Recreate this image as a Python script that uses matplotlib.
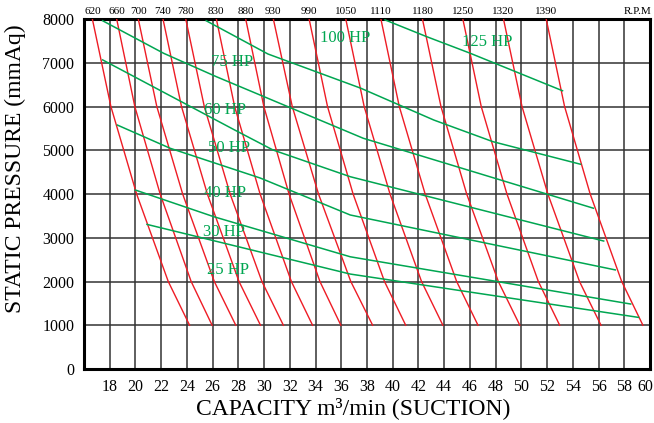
import matplotlib.pyplot as plt

plt.rcParams['font.family'] = ['Liberation Serif', 'DejaVu Serif']

# RPM curves: x at y = 8000, 6000, 4000, 2000, 1000
rpm_labels = ['620', '660', '700', '740', '780', '830', '880', '930', '990',
              '1050', '1110', '1180', '1250', '1320', '1390']
rpm_y = [8000, 6000, 4000, 2000, 1000]
rpm_x = [
    [16.65, 18.09, 20.09, 22.55, 24.21],
    [18.54, 19.95, 21.92, 24.33, 25.96],
    [20.22, 21.66, 23.67, 26.13, 27.80],
    [22.14, 23.58, 25.59, 28.05, 29.72],
    [23.91, 25.35, 27.36, 29.83, 31.50],
    [26.29, 27.71, 29.69, 32.12, 33.77],
    [28.57, 29.98, 31.94, 34.34, 35.97],
    [30.72, 32.19, 34.23, 36.74, 38.44],
    [33.50, 34.93, 36.92, 39.36, 41.01],
    [36.35, 37.78, 39.79, 42.24, 43.90],
    [39.08, 40.51, 42.52, 44.97, 46.63],
    [42.31, 43.75, 45.75, 48.21, 49.88],
    [45.45, 46.88, 48.88, 51.32, 52.98],
    [48.61, 50.05, 52.06, 54.52, 56.19],
    [51.93, 53.36, 55.35, 57.80, 59.45],
]

# HP curves (capacity, pressure)
hp_125_x = [39.4, 42.65, 46.0, 53.2]
hp_125_y = [7980, 7595, 7220, 6360]
hp_100_x = [25.5, 30.3, 37.5, 43.2, 47.8, 54.6]
hp_100_y = [7960, 7200, 6420, 5690, 5195, 4680]
hp_75_x = [17.45, 22.2, 26.3, 37.7, 55.6]
hp_75_y = [7960, 7215, 6680, 5275, 3675]
hp_60_x = [17.45, 27.7, 30.7, 36.7, 56.4]
hp_60_y = [7065, 5465, 5005, 4395, 2925]
hp_50_x = [18.6, 22.7, 29.7, 36.7, 57.3]
hp_50_y = [5575, 5045, 4365, 3520, 2265]
hp_40_x = [20.0, 26.1, 36.7, 58.5]
hp_40_y = [4090, 3480, 2565, 1485]
hp_30_x = [20.9, 36.7, 59.1]
hp_30_y = [3305, 2170, 1180]

hp_texts = ['100 HP', '125 HP', '75 HP', '60 HP', '50 HP', '40 HP', '30 HP', '25 HP']
hp_text_x = [36.3, 47.35, 27.5, 27.0, 27.3, 27.0, 26.9, 27.2]
hp_text_y = [7570, 7475, 7020, 5920, 5050, 4025, 3130, 2265]

x_ticks = list(range(18, 61, 2))
y_ticks = list(range(0, 8001, 1000))

red = '#ee1c25'
green = '#00a651'

fig = plt.figure(figsize=(6.54, 4.23), dpi=100)
ax = fig.add_axes([84 / 654, 1 - 369 / 423, 566 / 654, 350 / 423])

# RPM 곡선
for xs in rpm_x:
    ax.plot(xs, rpm_y, color=red, lw=1.0, zorder=3)

# HP 곡선
for xs, ys in [(hp_125_x, hp_125_y), (hp_100_x, hp_100_y), (hp_75_x, hp_75_y),
               (hp_60_x, hp_60_y), (hp_50_x, hp_50_y), (hp_40_x, hp_40_y),
               (hp_30_x, hp_30_y)]:
    ax.plot(xs, ys, color=green, lw=1.1, zorder=4)

for t, x, y in zip(hp_texts, hp_text_x, hp_text_y):
    ax.text(x, y, t, color=green, fontsize=12, ha='center', va='center', zorder=5)

# 상단 RPM 라벨
for lab, xs in zip(rpm_labels, rpm_x):
    ax.text(xs[0], 8070, lab, fontsize=8, ha='center', va='bottom', clip_on=False)
ax.text(59.0, 8070, 'R.P.M', fontsize=8, ha='center', va='bottom', clip_on=False)

ax.set_xlim(16, 60)
ax.set_ylim(0, 8000)
# 마지막 라벨(60)은 그림 밖으로 나가지 않게 따로 그림
ax.set_xticks(x_ticks, [str(v) for v in x_ticks[:-1]] + [''])
ax.annotate(str(x_ticks[-1]), xy=(x_ticks[-1], 0), xycoords=('data', 'axes fraction'),
            xytext=(2.5, -7.5), textcoords='offset points', ha='right', va='top',
            fontsize=11.5)
ax.set_yticks(y_ticks)
ax.tick_params(length=0, labelsize=11.5, pad=7)
ax.grid(True, color='#333333', lw=1.1, zorder=1)
ax.set_axisbelow(True)
for s in ax.spines.values():
    s.set_linewidth(2.2)
    s.set_color('black')

fig.text(15 / 654, 1 - 169 / 423, 'STATIC PRESSURE (mmAq)', rotation=90,
         fontsize=17, ha='center', va='center')
fig.text(353 / 654, 1 - 408 / 423, 'CAPACITY m³/min (SUCTION)',
         fontsize=17, ha='center', va='center')

fig.savefig('out.png', dpi=100)
